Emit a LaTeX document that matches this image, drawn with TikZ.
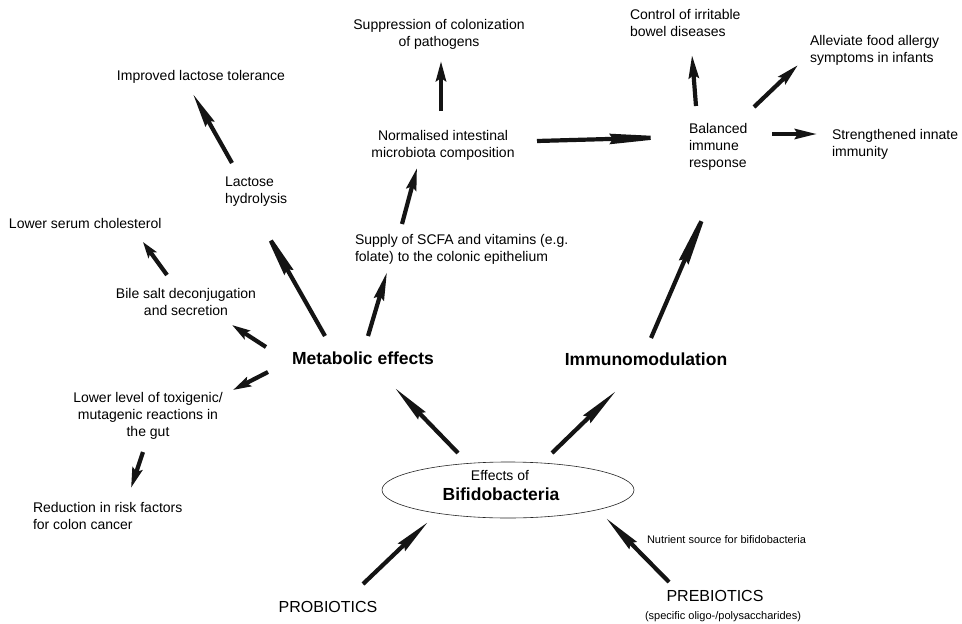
\documentclass[tikz,border=0pt]{standalone}
\usepackage{fontspec}
\setmainfont{Liberation Sans}
\usetikzlibrary{arrows.meta,shapes.geometric}
\tikzset{
  txt/.style={font=\fontsize{14}{17}\selectfont, inner sep=0pt, outer sep=0pt},
  big/.style={font=\fontsize{17.5}{21}\selectfont\bfseries, inner sep=0pt, outer sep=0pt},
  small/.style={font=\fontsize{11}{13}\selectfont, inner sep=0pt, outer sep=0pt},
  fat/.style={line width=4.2pt, draw=black!92, -{Stealth[length=#1, width=10pt, inset=3pt]}},
}
\begin{document}
\begin{tikzpicture}[x=1pt,y=-1pt]
\useasboundingbox (0,0) rectangle (962,624);
\fill[white] (0,0) rectangle (962,624);

% text nodes (multi-line: base anchor is the last line)
\node[txt, align=center, anchor=base] (supp) at (439,46) {Suppression of colonization\\of pathogens};
\node[txt, anchor=base] (lacttol) at (201,80) {Improved lactose tolerance};
\node[txt, align=left, anchor=base west] (lacthyd) at (225,203) {Lactose\\hydrolysis};
\node[txt, anchor=base west] (chol) at (9,228) {Lower serum cholesterol};
\node[txt, align=center, anchor=base] (bile) at (186,315) {Bile salt deconjugation\\and secretion};
\node[txt, align=center, anchor=base] (normal) at (443,157) {Normalised intestinal\\microbiota composition};
\node[txt, align=left, anchor=base west] (supply) at (355,261) {Supply of SCFA and vitamins (e.g.\\folate) to the colonic epithelium};
\node[txt, align=left, anchor=base west] (control) at (630,36) {Control of irritable\\bowel diseases};
\node[txt, align=left, anchor=base west] (allev) at (810,62) {Alleviate food allergy\\symptoms in infants};
\node[txt, align=left, anchor=base west] (balanced) at (689,167) {Balanced\\immune\\response};
\node[txt, align=left, anchor=base west] (strength) at (832,156) {Strengthened innate\\immunity};
\node[big, anchor=base] (metab) at (363,364) {Metabolic effects};
\node[big, anchor=base] (immuno) at (646,365) {Immunomodulation};
\node[txt, align=center, anchor=base] (lower) at (148,436) {Lower level of toxigenic/\\mutagenic reactions in\\the gut};
\node[txt, align=left, anchor=base west] (reduct) at (33,529) {Reduction in risk factors\\for colon cancer};
\node[draw=black!85, line width=0.6pt, ellipse, minimum width=252pt, minimum height=56pt, inner sep=0pt] (ell) at (508,490) {};
\node[txt, anchor=base] (effects) at (500,480) {Effects of};
\node[big, anchor=base] (bifido) at (501,500) {Bifidobacteria};
\node[font=\fontsize{16}{19}\selectfont, inner sep=0pt, anchor=base] (probio) at (328,612) {PROBIOTICS};
\node[small, anchor=base west] (nutr) at (647,543) {Nutrient source for bifidobacteria};
\node[font=\fontsize{16}{19}\selectfont, inner sep=0pt, anchor=base] (prebio) at (715,601) {PREBIOTICS};
\node[small, anchor=base] (specific) at (723,619) {(specific oligo-/polysaccharides)};

% arrow end points
\coordinate (s1) at (441,111);  \coordinate (e1) at (441,61);
\coordinate (s2) at (232,163);  \coordinate (e2) at (193,94);
\coordinate (s3) at (167,275);  \coordinate (e3) at (143,242);
\coordinate (s4) at (325,336);  \coordinate (e4) at (258,218);
\coordinate (s5) at (402,224);  \coordinate (e5) at (417,168);
\coordinate (s6) at (368,336);  \coordinate (e6) at (387,272);
\coordinate (s7) at (696,106);  \coordinate (e7) at (692,55);
\coordinate (s8) at (754,107);  \coordinate (e8) at (798,65);
\coordinate (s9) at (537,141);  \coordinate (e9) at (680,137);
\coordinate (s10) at (772,134); \coordinate (e10) at (817,134);
\coordinate (s11) at (651,338); \coordinate (e11) at (714,192);
\coordinate (s12) at (266,347); \coordinate (e12) at (232,325);
\coordinate (s13) at (268,372); \coordinate (e13) at (233,390);
\coordinate (s14) at (143,452); \coordinate (e14) at (131,488);
\coordinate (s15) at (458,453); \coordinate (e15) at (395,388);
\coordinate (s16) at (363,584); \coordinate (e16) at (428,522);
\coordinate (s17) at (552,453); \coordinate (e17) at (616,391);
\coordinate (s18) at (669,582); \coordinate (e18) at (606,518);

% arrows
\draw[fat=20pt] (s1) -- (e1);
\draw[fat=34pt] (s2) -- (e2);
\draw[fat=16pt] (s3) -- (e3);
\draw[fat=62pt] (s4) -- (e4);
\draw[fat=22pt] (s5) -- (e5);
\draw[fat=28pt] (s6) -- (e6);
\draw[fat=23pt] (s7) -- (e7);
\draw[fat=22pt] (s8) -- (e8);
\draw[fat=70pt] (s9) -- (e9);
\draw[fat=22pt] (s10) -- (e10);
\draw[fat=76pt] (s11) -- (e11);
\draw[fat=18pt] (s12) -- (e12);
\draw[fat=18pt] (s13) -- (e13);
\draw[fat=20pt] (s14) -- (e14);
\draw[fat=38pt] (s15) -- (e15);
\draw[fat=36pt] (s16) -- (e16);
\draw[fat=40pt] (s17) -- (e17);
\draw[fat=38pt] (s18) -- (e18);
\end{tikzpicture}
\end{document}
